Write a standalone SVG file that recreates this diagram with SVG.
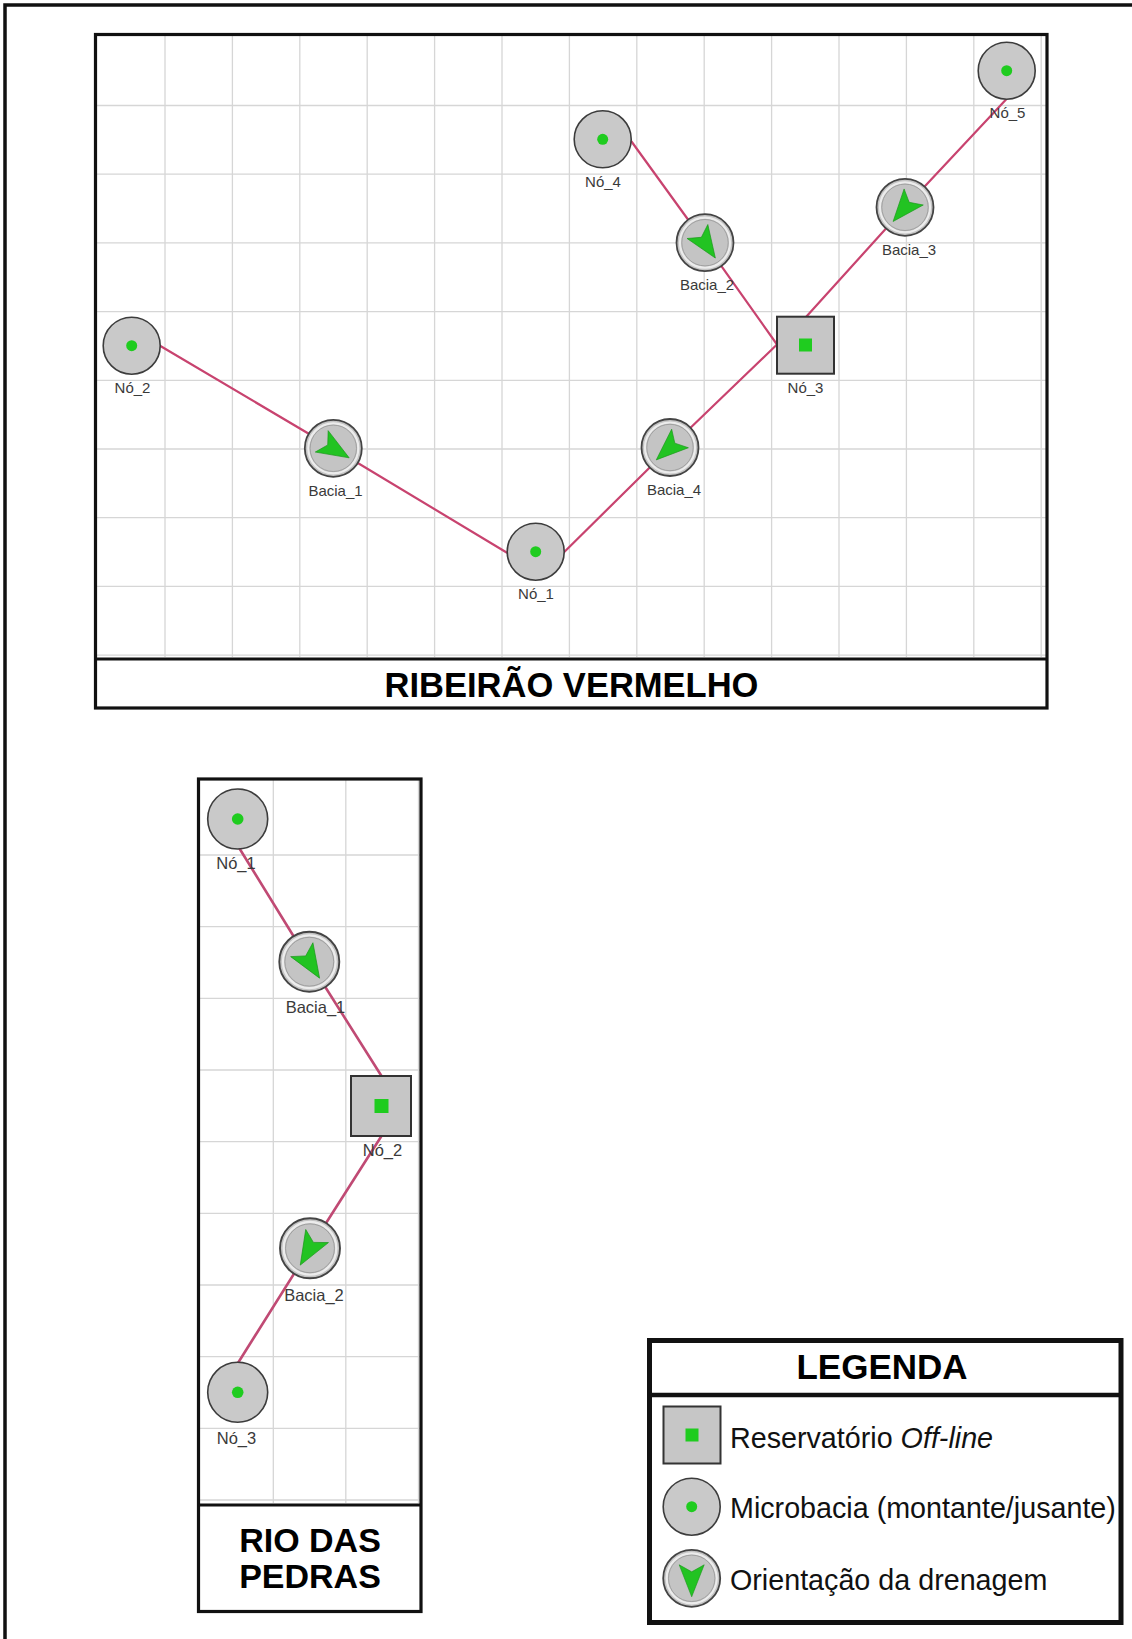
<svg xmlns="http://www.w3.org/2000/svg" xmlns:xlink="http://www.w3.org/1999/xlink" width="1132" height="1639" viewBox="0 0 1132 1639">
<style>
.grid{stroke:#d6d6d6;stroke-width:1.3;fill:none}
.frame{fill:none;stroke:#111;stroke-width:3.2}
.link{stroke:#c8436f;stroke-width:2.2;fill:none;stroke-linecap:round}
.link2{stroke:#c04a74;stroke-width:2.6;fill:none;stroke-linecap:round}
.nodec{fill:#c9c9c9;stroke:#3c3c3c;stroke-width:1.6}
.dot{fill:#1fcc1f}
.bout{fill:#c4c4c4;stroke:#444;stroke-width:1.8}
.bhl{fill:none;stroke:#ececec;stroke-width:2.2}
.bin{fill:none;stroke:#9c9c9c;stroke-width:0.9}
.sq{fill:#c6c6c6;stroke:#333;stroke-width:2}
.dart{fill:#22c322;stroke:#179617;stroke-width:0.6;stroke-linejoin:round}
.lbl{font-family:"Liberation Sans",Arial,sans-serif;font-size:15px;fill:#3a3a3a;text-anchor:middle}
.lbl2{font-family:"Liberation Sans",Arial,sans-serif;font-size:16.5px;fill:#3a3a3a;text-anchor:middle}
.title{font-family:"Liberation Sans",Arial,sans-serif;font-weight:bold;fill:#000;text-anchor:middle}
.leg{font-family:"Liberation Sans",Arial,sans-serif;font-size:28.7px;fill:#111}
</style>
<defs>
<path id="dart" d="M18.5,0 L-13.5,-12.5 L-6.5,0 L-13.5,12.5 Z"/>
<g id="bacia">
<circle r="28.5" class="bout"/>
<circle r="25" class="bhl"/>
<circle r="23.2" class="bin"/>
</g>
</defs>
<rect width="1132" height="1639" fill="#fff"/>
<path d="M5,1639 V5 H1132" fill="none" stroke="#111" stroke-width="3.5"/>

<!-- RIBEIRAO VERMELHO panel -->
<g id="panel-rv">
<g class="grid">
<path d="M165,35V657M232.4,35V657M299.8,35V657M367.2,35V657M434.6,35V657M502,35V657M569.4,35V657M636.8,35V657M704.2,35V657M771.6,35V657M839,35V657M906.4,35V657M973.8,35V657M1041.2,35V657"/>
<path d="M97,105.5H1046M97,174.2H1046M97,242.9H1046M97,311.6H1046M97,380.3H1046M97,449H1046M97,517.7H1046M97,586.4H1046M97,655.1H1046"/>
</g>
<rect x="95.5" y="34.5" width="951.5" height="673.5" class="frame"/>
<line x1="95.5" y1="659" x2="1047" y2="659" stroke="#111" stroke-width="3.2"/>
<text x="571.5" y="696.5" class="title" font-size="34.5">RIBEIRÃO VERMELHO</text>
</g>

<!-- RIO DAS PEDRAS panel -->
<g id="panel-rp">
<g class="grid">
<path d="M273.3,780V1503M345.8,780V1503M418.5,780V1503"/>
<path d="M200,855H420M200,926.7H420M200,998.3H420M200,1070H420M200,1141.7H420M200,1213.3H420M200,1285H420M200,1356.7H420M200,1428.3H420M200,1500H420"/>
</g>
<rect x="198.5" y="779" width="222.5" height="832.5" class="frame"/>
<line x1="198.5" y1="1505" x2="421" y2="1505" stroke="#111" stroke-width="3.2"/>
<text x="310" y="1551.5" class="title" font-size="34">RIO DAS</text>
<text x="310" y="1588" class="title" font-size="34">PEDRAS</text>
</g>

<!-- connectors -->
<g id="connectors">
<line class="link" x1="160" y1="345.7" x2="333.3" y2="448.3"/>
<line class="link" x1="333.3" y1="448.3" x2="507" y2="552.7"/>
<line class="link" x1="563.5" y1="552.7" x2="670" y2="447.5"/>
<line class="link" x1="670" y1="447.5" x2="777" y2="344.5"/>
<line class="link" x1="631.5" y1="141.5" x2="705" y2="243"/>
<line class="link" x1="705" y1="243" x2="777" y2="344.5"/>
<line class="link" x1="1006.5" y1="99" x2="905" y2="207.5"/>
<line class="link" x1="905" y1="207.5" x2="806" y2="317"/>
<line class="link2" x1="239.5" y1="848.5" x2="309.3" y2="961.7"/>
<line class="link2" x1="309.3" y1="961.7" x2="381.5" y2="1076"/>
<line class="link2" x1="381.5" y1="1136" x2="310" y2="1248.3"/>
<line class="link2" x1="310" y1="1248.3" x2="238.3" y2="1362.5"/>
</g>

<!-- top panel nodes -->
<g id="rv-no2"><circle cx="131.7" cy="345.7" r="28.5" class="nodec"/><circle cx="131.7" cy="345.7" r="5.5" class="dot"/><text x="132.5" y="393" class="lbl">Nó_2</text></g>
<g id="rv-bacia1"><use xlink:href="#bacia" transform="translate(333.3,448.3)"/><use xlink:href="#dart" class="dart" transform="translate(333.3,448.3) rotate(31)"/><text x="335.5" y="496" class="lbl">Bacia_1</text></g>
<g id="rv-no1"><circle cx="535.7" cy="551.7" r="28.5" class="nodec"/><circle cx="535.7" cy="551.7" r="5.5" class="dot"/><text x="536" y="599" class="lbl">Nó_1</text></g>
<g id="rv-bacia4"><use xlink:href="#bacia" transform="translate(670,447.5)"/><use xlink:href="#dart" class="dart" transform="translate(670,447.5) rotate(138)"/><text x="674" y="495" class="lbl">Bacia_4</text></g>
<g id="rv-no3"><rect x="777" y="316.7" width="57" height="57" class="sq"/><rect x="799" y="338.5" width="13" height="13" class="dot"/><text x="805.5" y="393" class="lbl">Nó_3</text></g>
<g id="rv-bacia2"><use xlink:href="#bacia" transform="translate(705,242.7)"/><use xlink:href="#dart" class="dart" transform="translate(705,242.7) rotate(56)"/><text x="707" y="290.2" class="lbl">Bacia_2</text></g>
<g id="rv-no4"><circle cx="602.7" cy="139.3" r="28.5" class="nodec"/><circle cx="602.7" cy="139.3" r="5.5" class="dot"/><text x="603" y="187" class="lbl">Nó_4</text></g>
<g id="rv-bacia3"><use xlink:href="#bacia" transform="translate(905,207.3)"/><use xlink:href="#dart" class="dart" transform="translate(905,207.3) rotate(130)"/><text x="909" y="255" class="lbl">Bacia_3</text></g>
<g id="rv-no5"><circle cx="1006.7" cy="70.7" r="28.5" class="nodec"/><circle cx="1006.7" cy="70.7" r="5.5" class="dot"/><text x="1007.5" y="117.5" class="lbl">Nó_5</text></g>

<!-- bottom panel nodes -->
<g id="rp-no1"><circle cx="237.7" cy="819" r="30" class="nodec"/><circle cx="237.7" cy="819" r="5.8" class="dot"/><text x="236" y="869" class="lbl2">Nó_1</text></g>
<g id="rp-bacia1"><use xlink:href="#bacia" transform="translate(309.3,961.7) scale(1.053)"/><use xlink:href="#dart" class="dart" transform="translate(309.3,961.7) rotate(58) scale(1.05)"/><text x="315.5" y="1012.5" class="lbl2">Bacia_1</text></g>
<g id="rp-no2"><rect x="351" y="1076" width="60" height="60" class="sq"/><rect x="374.5" y="1099" width="14" height="14" class="dot"/><text x="382.5" y="1156" class="lbl2">Nó_2</text></g>
<g id="rp-bacia2"><use xlink:href="#bacia" transform="translate(310,1248.3) scale(1.053)"/><use xlink:href="#dart" class="dart" transform="translate(310,1248.3) rotate(120) scale(1.05)"/><text x="314" y="1300.5" class="lbl2">Bacia_2</text></g>
<g id="rp-no3"><circle cx="237.7" cy="1392.3" r="30" class="nodec"/><circle cx="237.7" cy="1392.3" r="5.8" class="dot"/><text x="236.5" y="1444" class="lbl2">Nó_3</text></g>

<!-- legend -->
<g id="legend">
<rect x="649.5" y="1340.5" width="471.5" height="282" fill="#fff" stroke="#111" stroke-width="5"/>
<line x1="649.5" y1="1395" x2="1121" y2="1395" stroke="#111" stroke-width="4.5"/>
<text x="882" y="1379.3" class="title" font-size="35">LEGENDA</text>
<g id="leg-reservatorio"><rect x="663.5" y="1406.5" width="57" height="57" class="sq" stroke="#555"/><rect x="685.5" y="1428.5" width="13" height="13" class="dot"/><text x="730" y="1447.5" class="leg">Reservatório <tspan font-style="italic">Off-line</tspan></text></g>
<g id="leg-microbacia"><circle cx="691.7" cy="1506.7" r="28.5" class="nodec" stroke="#555"/><circle cx="691.7" cy="1506.7" r="5.5" class="dot"/><text x="730" y="1518.3" class="leg">Microbacia (montante/jusante)</text></g>
<g id="leg-orientacao"><use xlink:href="#bacia" transform="translate(691.7,1578.3)"/><use xlink:href="#dart" class="dart" transform="translate(691.7,1578.3) rotate(90)"/><text x="730" y="1590" class="leg">Orientação da drenagem</text></g>
</g>
</svg>
